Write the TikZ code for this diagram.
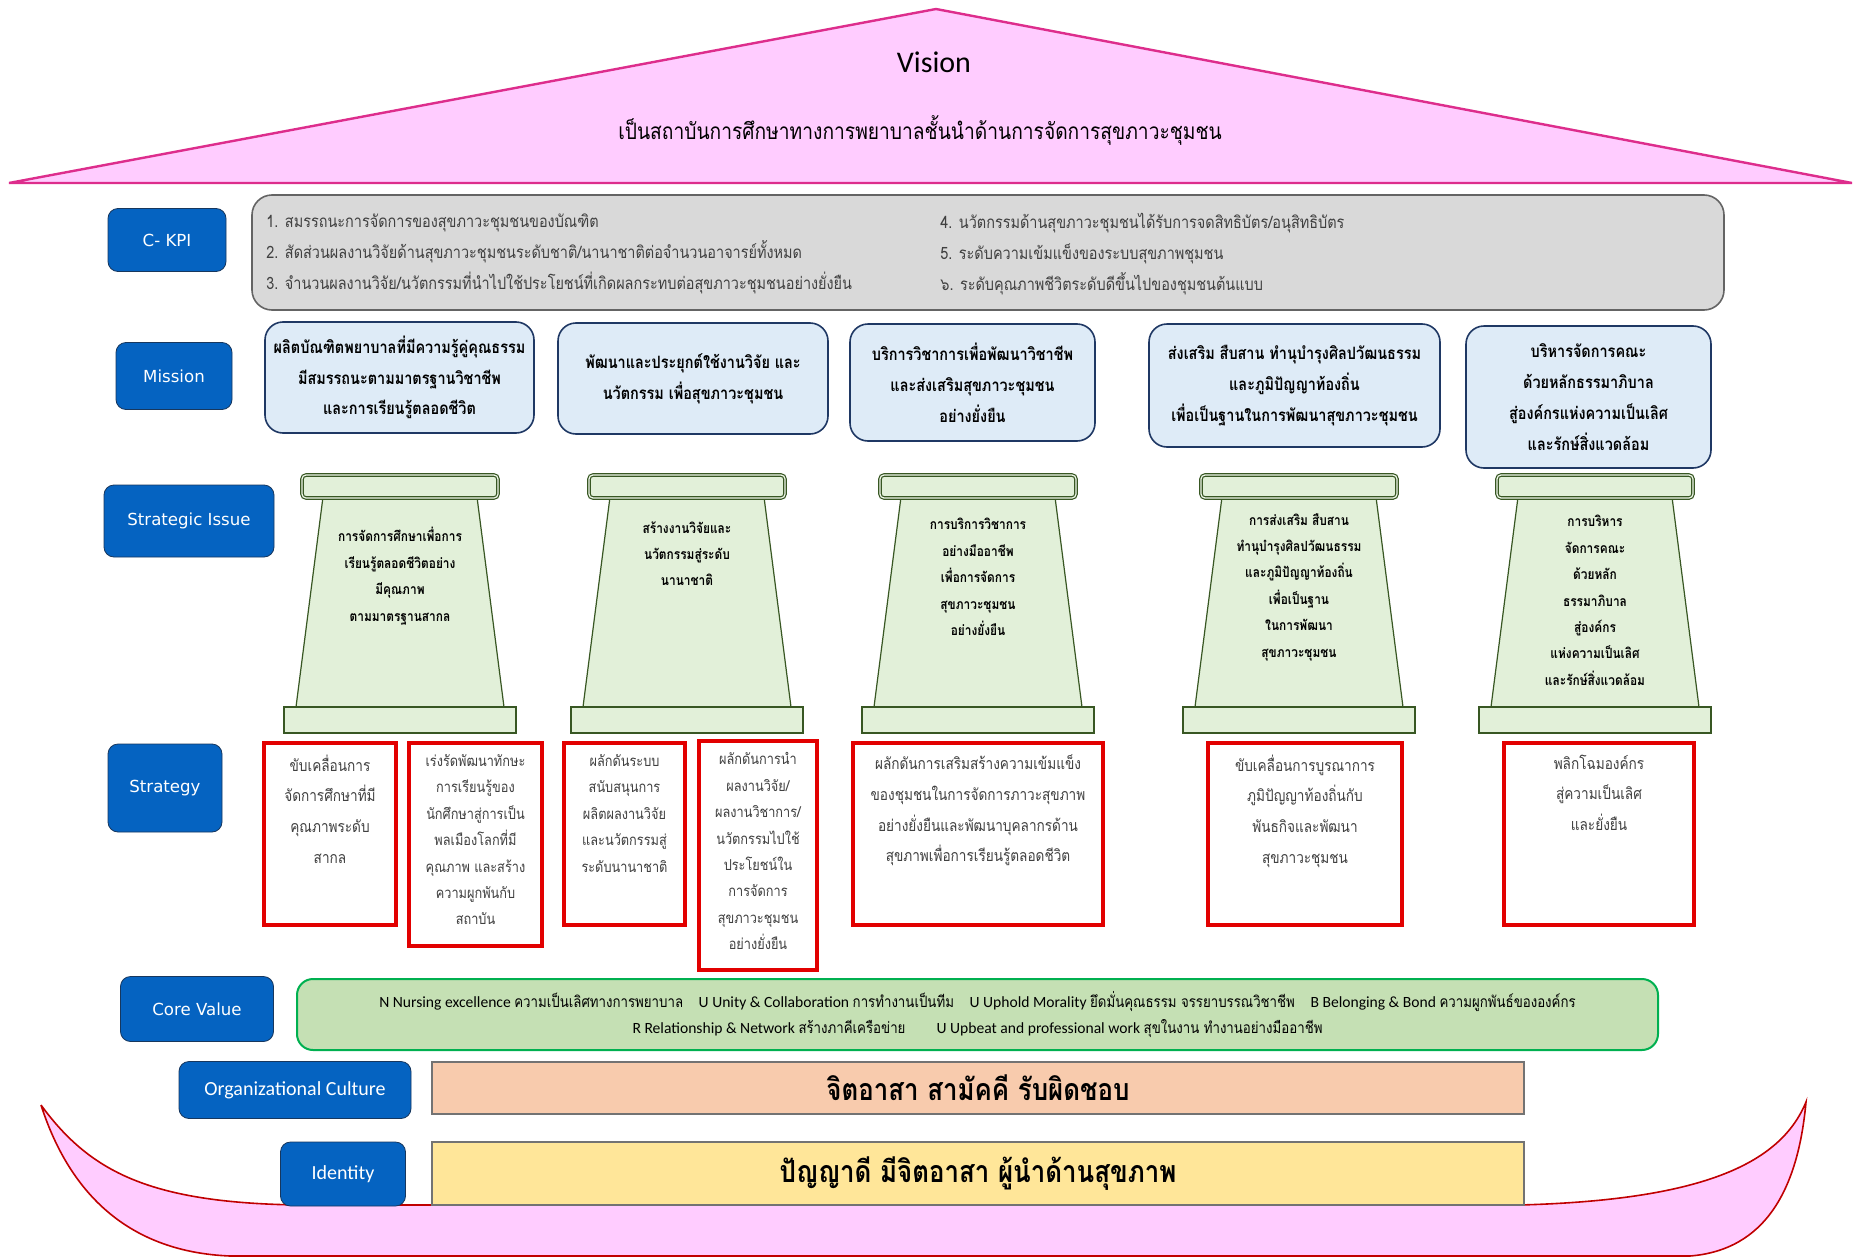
\documentclass[tikz,border=0pt]{standalone}
\usepackage{fontspec}
\setmainfont{Carlito}
\newfontfamily\thai[Script=Thai,FakeStretch=0.85]{Loma}
\newfontfamily\lblfont{DejaVu Sans}
\usetikzlibrary{positioning}
\definecolor{roofpink}{RGB}{255,204,255}
\definecolor{roofline}{RGB}{221,45,140}
\definecolor{boatline}{RGB}{192,0,0}
\definecolor{lblblue}{RGB}{5,99,193}
\definecolor{lblnavy}{RGB}{23,55,94}
\definecolor{kpigray}{RGB}{217,217,217}
\definecolor{kpiline}{RGB}{100,100,100}
\definecolor{missfill}{RGB}{222,235,247}
\definecolor{missline}{RGB}{31,56,100}
\definecolor{pilfill}{RGB}{226,240,217}
\definecolor{pilline}{RGB}{56,87,35}
\definecolor{stratred}{RGB}{226,0,0}
\definecolor{corefill}{RGB}{197,224,180}
\definecolor{coreline}{RGB}{0,176,80}
\definecolor{cultfill}{RGB}{248,203,173}
\definecolor{idfill}{RGB}{255,230,153}
\definecolor{txtgray}{RGB}{64,64,64}
\begin{document}
\begin{tikzpicture}[x=0.5pt,y=-0.5pt,
  lbl/.style={draw=lblnavy,fill=lblblue,rounded corners=5pt,text=white,inner sep=0pt,font=\lblfont\fontsize{8.3}{10}\selectfont},
  lbltwo/.style={lbl,font=\fontsize{10}{12}\selectfont},
  kpitxt/.style={anchor=west,align=left,inner sep=0pt,text=txtgray,font=\thai\fontsize{8.5}{15.5}\selectfont},
  missbox/.style={draw=missline,fill=missfill,rounded corners=9pt,line width=0.8pt,align=center,inner sep=0pt,font=\thai\bfseries\fontsize{8.5}{15.4}\selectfont},
  pilshape/.style={draw=pilline,fill=pilfill,line width=0.6pt},
  piltxt/.style={align=center,anchor=north,inner sep=0pt,font=\thai\bfseries\fontsize{7}{13.2}\selectfont},
  stratbox/.style={draw=stratred,line width=1.8pt,fill=white,inner sep=0pt},
  stbig/.style={align=center,inner sep=0pt,text=txtgray,font=\thai\fontsize{8}{15.4}\selectfont},
  stsmall/.style={align=center,inner sep=0pt,text=txtgray,font=\thai\fontsize{7.5}{13.2}\selectfont},
  bar/.style={draw=black!55,line width=0.8pt,inner sep=0pt,minimum width=546pt,font=\thai\bfseries\fontsize{15.2}{17}\selectfont}]
\fill[white] (0,0) rectangle (1854,1258);
\useasboundingbox (0,0) rectangle (1854,1258);

% roof
\draw[roofline,fill=roofpink,line width=1.2pt] (9,183) -- (936,9) -- (1852,183) -- cycle;
\node[font=\fontsize{15}{18}\selectfont] (vision) at (934,62) {Vision};
\node[font=\thai\fontsize{11.3}{13}\selectfont] (visiontxt) at (920,130) {เป็นสถาบันการศึกษาทางการพยาบาลชั้นนำด้านการจัดการสุขภาวะชุมชน};

% boat
\draw[boatline,fill=roofpink,line width=0.8pt] (41,1105) .. controls (90,1172) and (150,1203) .. (300,1205) -- (1520,1205)
  .. controls (1700,1200) and (1780,1165) .. (1806,1102) .. controls (1798,1190) and (1765,1250) .. (1690,1256)
  -- (230,1256) .. controls (130,1252) and (70,1195) .. (41,1105);

% C-KPI
\node[draw=kpiline,fill=kpigray,rounded corners=10pt,line width=0.8pt,minimum width=736pt,minimum height=57.5pt] (kpi) at (988,252.5) {};
\node[kpitxt] (kpia) at (266,254) {1. สมรรถนะการจัดการของสุขภาวะชุมชนของบัณฑิต\\2. สัดส่วนผลงานวิจัยด้านสุขภาวะชุมชนระดับชาติ/นานาชาติต่อจำนวนอาจารย์ทั้งหมด\\3. จำนวนผลงานวิจัย/นวัตกรรมที่นำไปใช้ประโยชน์ที่เกิดผลกระทบต่อสุขภาวะชุมชนอย่างยั่งยืน};
\node[kpitxt] (kpib) at (940,254) {4. นวัตกรรมด้านสุขภาวะชุมชนได้รับการจดสิทธิบัตร/อนุสิทธิบัตร\\5. ระดับความเข้มแข็งของระบบสุขภาพชุมชน\\๖. ระดับคุณภาพชีวิตระดับดีขึ้นไปของชุมชนต้นแบบ};

% labels
\node[lbl,minimum width=59pt,minimum height=31.5pt] (kpilbl) at (167,240) {C- KPI};
\node[lbl,minimum width=58pt,minimum height=33.5pt] (misslbl) at (174,376) {Mission};
\node[lbl,minimum width=85pt,minimum height=36pt] (issuelbl) at (189,521) {Strategic Issue};
\node[lbl,minimum width=57pt,minimum height=44pt] (stratlbl) at (165,788) {Strategy};
\node[lbl,minimum width=76.5pt,minimum height=32.5pt] (corelbl) at (197,1009) {Core Value};
\node[lbltwo,minimum width=116pt,minimum height=28.5pt] (cultlbl) at (295,1090) {Organizational Culture};
\node[lbltwo,minimum width=62.5pt,minimum height=32pt] (idlbl) at (343,1174) {Identity};

% missions
\foreach \i/\x/\y/\w/\h/\txt in {
  1/399.5/377.5/134.5/55.5/{ผลิตบัณฑิตพยาบาลที่มีความรู้คู่คุณธรรม\\มีสมรรถนะตามมาตรฐานวิชาชีพ\\และการเรียนรู้ตลอดชีวิต},
  2/693/378.5/135/55.5/{พัฒนาและประยุกต์ใช้งานวิจัย และ\\นวัตกรรม เพื่อสุขภาวะชุมชน},
  3/972.5/382.5/122.5/58.5/{บริการวิชาการเพื่อพัฒนาวิชาชีพ\\และส่งเสริมสุขภาวะชุมชน\\อย่างยั่งยืน},
  4/1294.5/385.5/145.5/61.5/{ส่งเสริม สืบสาน ทำนุบำรุงศิลปวัฒนธรรม\\และภูมิปัญญาท้องถิ่น\\เพื่อเป็นฐานในการพัฒนาสุขภาวะชุมชน},
  5/1588.5/397/122.5/71/{บริหารจัดการคณะ\\ด้วยหลักธรรมาภิบาล\\สู่องค์กรแห่งความเป็นเลิศ\\และรักษ์สิ่งแวดล้อม}}
  \node[missbox,minimum width=\w pt,minimum height=\h pt] (miss\i) at (\x,\y) {\txt};

% pillars
\foreach \i/\cx/\ty/\txt in {
  1/400/527/{การจัดการศึกษาเพื่อการ\\เรียนรู้ตลอดชีวิตอย่าง\\มีคุณภาพ\\ตามมาตรฐานสากล},
  2/687/521/{สร้างงานวิจัยและ\\นวัตกรรมสู่ระดับ\\นานาชาติ},
  3/978/518/{การบริการวิชาการ\\อย่างมืออาชีพ\\เพื่อการจัดการ\\สุขภาวะชุมชน\\อย่างยั่งยืน},
  4/1299/513/{การส่งเสริม สืบสาน\\ทำนุบำรุงศิลปวัฒนธรรม\\และภูมิปัญญาท้องถิ่น\\เพื่อเป็นฐาน\\ในการพัฒนา\\สุขภาวะชุมชน},
  5/1595/515/{การบริหาร\\จัดการคณะ\\ด้วยหลัก\\ธรรมาภิบาล\\สู่องค์กร\\แห่งความเป็นเลิศ\\และรักษ์สิ่งแวดล้อม}} {
  \draw[pilshape] (\cx-104,707) -- (\cx-77,497) -- (\cx+77,497) -- (\cx+104,707) -- cycle;
  \draw[pilshape] (\cx-116,707) rectangle (\cx+116,733);
  \draw[pilshape,double=pilfill!60!white,double distance=0.6pt,rounded corners=2pt] (\cx-98,475) rectangle (\cx+98,498);
  \node[piltxt] (pil\i) at (\cx,\ty) {\txt};
}

% strategies
\foreach \i/\x/\y/\w/\h/\st/\txt in {
  1/330/834/66/91/stbig/{ขับเคลื่อนการ\\จัดการศึกษาที่มี\\คุณภาพระดับ\\สากล},
  2/475.5/844.5/66.5/101.5/stsmall/{เร่งรัดพัฒนาทักษะ\\การเรียนรู้ของ\\นักศึกษาสู่การเป็น\\พลเมืองโลกที่มี\\คุณภาพ และสร้าง\\ความผูกพันกับ\\สถาบัน},
  3/624.5/834/60.5/91/stsmall/{ผลักดันระบบ\\สนับสนุนการ\\ผลิตผลงานวิจัย\\และนวัตกรรมสู่\\ระดับนานาชาติ},
  4/758/855.5/59/114.5/stsmall/{ผลักดันการนำ\\ผลงานวิจัย/\\ผลงานวิชาการ/\\นวัตกรรมไปใช้\\ประโยชน์ใน\\การจัดการ\\สุขภาวะชุมชน\\อย่างยั่งยืน},
  5/978/834/125/91/stbig/{ผลักดันการเสริมสร้างความเข้มแข็ง\\ของชุมชนในการจัดการภาวะสุขภาพ\\อย่างยั่งยืนและพัฒนาบุคลากรด้าน\\สุขภาพเพื่อการเรียนรู้ตลอดชีวิต},
  6/1305/834/97/91/stbig/{ขับเคลื่อนการบูรณาการ\\ภูมิปัญญาท้องถิ่นกับ\\พันธกิจและพัฒนา\\สุขภาวะชุมชน},
  7/1599/834/95/91/stbig/{พลิกโฉมองค์กร\\สู่ความเป็นเลิศ\\และยั่งยืน}} {
  \node[stratbox,minimum width=\w pt,minimum height=\h pt] (strat\i) at (\x,\y) {};
  \node[\st,below=6.5pt of strat\i.north] (strattxt\i) {\txt};
}

% core value, culture, identity
\node[draw=coreline,fill=corefill,rounded corners=8pt,line width=1pt,minimum width=680.5pt,minimum height=35.5pt,align=center,inner sep=0pt,font=\fontsize{7.8}{13}\selectfont] (core) at (977.5,1014.5)
  {N Nursing excellence {\thai ความเป็นเลิศทางการพยาบาล}\quad U Unity \& Collaboration {\thai การทำงานเป็นทีม}\quad U Uphold Morality {\thai ยึดมั่นคุณธรรม จรรยาบรรณวิชาชีพ}\quad B Belonging \& Bond {\thai ความผูกพันธ์ขององค์กร}\\
   R Relationship \& Network {\thai สร้างภาคีเครือข่าย}\qquad U Upbeat and professional work {\thai สุขในงาน ทำงานอย่างมืออาชีพ}};
\node[bar,fill=cultfill,minimum height=26pt] (culture) at (978,1088) {จิตอาสา สามัคคี รับผิดชอบ};
\node[bar,fill=idfill,minimum height=31.5pt] (identity) at (978,1173.5) {ปัญญาดี มีจิตอาสา ผู้นำด้านสุขภาพ};
\end{tikzpicture}
\end{document}
